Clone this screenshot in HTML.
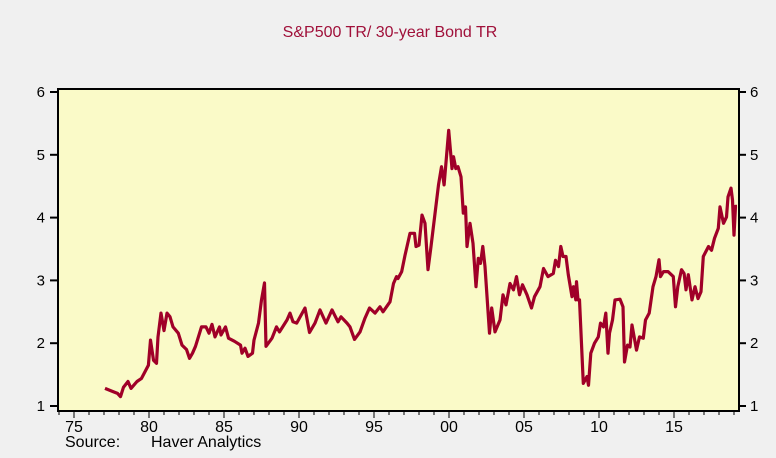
<!DOCTYPE html>
<html><head><meta charset="utf-8"><style>
body{margin:0;background:#f0f0f0;}
svg{display:block;font-family:"Liberation Sans",sans-serif;}
</style></head><body>
<svg id="chart" width="776" height="458">
<rect x="0" y="0" width="776" height="458" fill="#f0f0f0"/>
<text x="390" y="37" text-anchor="middle" font-size="16" fill="#a0103a">S&amp;P500 TR/ 30-year Bond TR</text>
<rect x="58" y="89" width="681" height="322" fill="#fafac8" stroke="#000" stroke-width="2"/>
<g id="axes"></g>
<g id="series"></g>
<text x="65" y="447" font-size="16" fill="#000">Source:</text>
<text x="151" y="447" font-size="16" fill="#000">Haver Analytics</text>
</svg>
<script>
const years=[1977.07,1977.6,1977.9,1978.1,1978.3,1978.6,1978.8,1979.2,1979.5,1979.96,1980.1,1980.3,1980.5,1980.6,1980.8,1981.0,1981.2,1981.4,1981.6,1981.95,1982.2,1982.5,1982.7,1982.9,1983.1,1983.5,1983.8,1984.0,1984.2,1984.4,1984.7,1984.8,1985.1,1985.3,1985.7,1986.1,1986.2,1986.4,1986.6,1986.9,1987.0,1987.3,1987.5,1987.7,1987.8,1988.2,1988.5,1988.7,1989.2,1989.4,1989.6,1989.85,1990.4,1990.7,1991.07,1991.4,1991.8,1992.2,1992.6,1992.8,1993.2,1993.4,1993.7,1994.07,1994.4,1994.7,1995.07,1995.4,1995.6,1996.07,1996.3,1996.5,1996.6,1996.85,1997.07,1997.4,1997.7,1997.8,1998.0,1998.2,1998.4,1998.6,1998.8,1999.3,1999.5,1999.67,1999.98,2000.2,2000.3,2000.45,2000.6,2000.8,2000.95,2001.1,2001.2,2001.4,2001.6,2001.8,2001.95,2002.1,2002.25,2002.4,2002.7,2002.85,2003.07,2003.4,2003.6,2003.8,2004.07,2004.3,2004.5,2004.7,2004.9,2005.2,2005.5,2005.7,2006.07,2006.3,2006.6,2006.95,2007.1,2007.3,2007.45,2007.6,2007.8,2007.95,2008.2,2008.3,2008.45,2008.5,2008.6,2008.7,2008.95,2009.2,2009.3,2009.45,2009.7,2009.95,2010.1,2010.3,2010.45,2010.6,2010.7,2010.9,2011.07,2011.4,2011.6,2011.7,2011.9,2012.07,2012.2,2012.5,2012.7,2012.95,2013.1,2013.35,2013.6,2013.8,2014.0,2014.1,2014.3,2014.6,2014.95,2015.1,2015.25,2015.5,2015.67,2015.8,2015.95,2016.2,2016.4,2016.6,2016.8,2016.95,2017.3,2017.5,2017.7,2017.95,2018.07,2018.3,2018.5,2018.6,2018.8,2018.9,2019.0,2019.1,2019.2];
const values=[1.28,1.23,1.2,1.15,1.3,1.39,1.28,1.39,1.44,1.65,2.05,1.73,1.68,2.1,2.48,2.2,2.48,2.42,2.26,2.16,1.97,1.9,1.76,1.84,1.95,2.26,2.26,2.16,2.3,2.1,2.26,2.13,2.26,2.08,2.03,1.97,1.84,1.92,1.79,1.84,2.05,2.32,2.69,2.96,1.95,2.08,2.26,2.18,2.37,2.48,2.34,2.32,2.56,2.17,2.32,2.53,2.32,2.53,2.34,2.42,2.32,2.26,2.06,2.18,2.4,2.56,2.48,2.58,2.5,2.66,2.95,3.06,3.03,3.14,3.4,3.75,3.75,3.54,3.56,4.04,3.91,3.17,3.54,4.52,4.81,4.52,5.39,4.78,4.97,4.78,4.81,4.65,4.07,4.17,3.54,3.91,3.59,2.9,3.35,3.27,3.54,3.22,2.16,2.56,2.18,2.37,2.77,2.61,2.95,2.85,3.06,2.77,2.93,2.77,2.56,2.74,2.9,3.19,3.06,3.11,3.32,3.22,3.54,3.38,3.38,3.09,2.74,2.9,2.69,2.98,2.69,2.69,1.36,1.47,1.33,1.84,2.0,2.1,2.32,2.26,2.48,1.84,2.16,2.37,2.69,2.7,2.58,1.7,1.97,1.94,2.29,1.89,2.1,2.08,2.37,2.48,2.9,3.06,3.33,3.06,3.14,3.14,3.06,2.58,2.9,3.17,3.11,2.85,3.09,2.69,2.9,2.71,2.82,3.38,3.54,3.48,3.67,3.83,4.17,3.91,4.01,4.33,4.47,4.28,3.72,4.18,4.18];
const yTicks=[1,2,3,4,5,6];
const xLabels=["75","80","85","90","95","00","05","10","15"];
const xLabelYears=[1975,1980,1985,1990,1995,2000,2005,2010,2015];
const ns="http://www.w3.org/2000/svg";
function xs(yr){return 74+(yr-1975)*15.0;}
function ys(v){return 406-(v-1)*62.8;}
const axes=document.getElementById('axes');
const series=document.getElementById('series');
function mk(tag,attrs,parent){const e=document.createElementNS(ns,tag);for(const k in attrs)e.setAttribute(k,attrs[k]);parent.appendChild(e);return e;}
yTicks.forEach(v=>{
  const y=ys(v);
  const t1=mk('line',{x1:50,x2:58,y1:y,y2:y,stroke:'#000','stroke-width':2},axes);
  
  
  const t2=mk('line',{x1:739,x2:746,y1:y,y2:y,stroke:'#000','stroke-width':2},axes);
  
  
  const l1=mk('text',{x:45,y:y+5,'text-anchor':'end','font-size':15,fill:'#000'},axes);
  l1.textContent=v;
  
  
  const l2=mk('text',{x:750,y:y+5,'font-size':15,fill:'#000'},axes);
  l2.textContent=v;
  
  
});
for(let yr=1974;yr<=2019;yr++){
  const x=xs(yr);
  if(x<59||x>738)continue;
  const major=(yr%5===0);
  const t=mk('line',{x1:x,x2:x,y1:411,y2:major?418:415,stroke:'#000','stroke-width':1},axes);
  
  
}
xLabels.forEach((lab,i)=>{
  const t=mk('text',{x:xs(xLabelYears[i]),y:432,'text-anchor':'middle','font-size':16,fill:'#000'},axes);
  t.textContent=lab;
  
  
});
const pts=years.map((yr,i)=>xs(yr).toFixed(1)+','+ys(values[i]).toFixed(1)).join(' ');
const line=mk('polyline',{points:pts,fill:'none',stroke:'#a00028','stroke-width':3.2,'stroke-linejoin':'round'},series);


</script>
</body></html>
